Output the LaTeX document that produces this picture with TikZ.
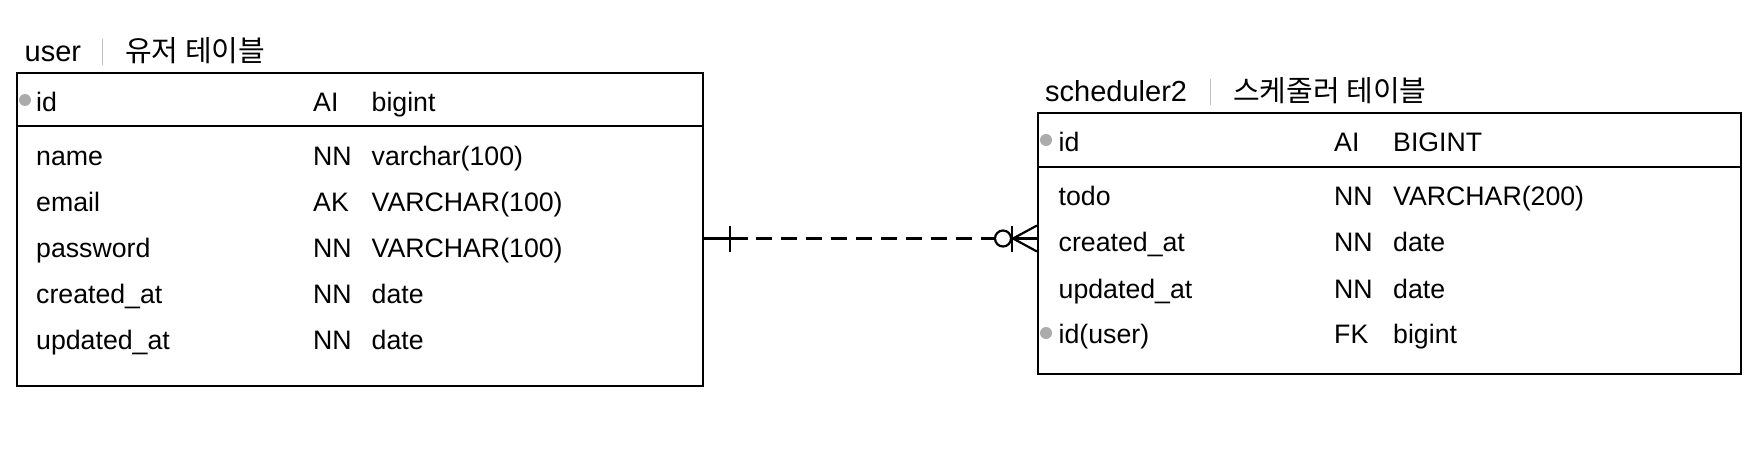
\documentclass[tikz,border=0pt]{standalone}
\usepackage{fontspec}
\setmainfont{Liberation Sans}
\newfontfamily\kofont{Noto Sans CJK KR}
\begin{document}
\begin{tikzpicture}[x=1pt,y=-1pt,
  tbl/.style={draw, line width=2pt, inner sep=0pt, anchor=north west},
  txt/.style={anchor=base west, inner sep=0pt, font=\fontsize{26.7}{30}\selectfont},
  ttl/.style={anchor=base west, inner sep=0pt, font=\fontsize{29}{32}\selectfont},
  pkdot/.style={fill=black!33, draw=none, circle, inner sep=0pt, minimum size=12pt},
  sep/.style={draw=black!25, line width=1.2pt},
  rel/.style={line width=2.2pt}]
\useasboundingbox (0,0) rectangle (1764,476);

% ---------- user table ----------
\node[ttl] (ut) at (24.5,62) {user};
\node[ttl] (utk) at (125,62) {\kofont 유저 테이블};
\draw[sep] (102.5,39) -- (102.5,65);
\node[tbl, minimum width=686pt, minimum height=312.5pt] (user) at (16,72) {};
\draw[line width=2pt] (user.west |- 0,126) -- (user.east |- 0,126);
\node[pkdot] (udot) at (25,100) {};
\node[txt] (u1) at (36,111.5) {id};
\node[txt] (u1k) at (313,111.5) {AI};
\node[txt] (u1t) at (371.5,111.5) {bigint};
\node[txt] (u2) at (36,165.5) {name};
\node[txt] (u2k) at (313,165.5) {NN};
\node[txt] (u2t) at (371.5,165.5) {varchar(100)};
\node[txt] (u3) at (36,211.5) {email};
\node[txt] (u3k) at (313,211.5) {AK};
\node[txt] (u3t) at (371.5,211.5) {VARCHAR(100)};
\node[txt] (u4) at (36,257.5) {password};
\node[txt] (u4k) at (313,257.5) {NN};
\node[txt] (u4t) at (371.5,257.5) {VARCHAR(100)};
\node[txt] (u5) at (36,303.5) {created\_at};
\node[txt] (u5k) at (313,303.5) {NN};
\node[txt] (u5t) at (371.5,303.5) {date};
\node[txt] (u6) at (36,349) {updated\_at};
\node[txt] (u6k) at (313,349) {NN};
\node[txt] (u6t) at (371.5,349) {date};

% ---------- scheduler2 table ----------
\node[ttl] (st) at (1045,101.5) {scheduler2};
\node[ttl] (stk) at (1233,101.5) {\kofont 스케줄러 테이블};
\draw[sep] (1210.5,79) -- (1210.5,105);
\node[tbl, minimum width=703pt, minimum height=260pt] (sch) at (1037,112.5) {};
\draw[line width=2pt] (sch.west |- 0,166.5) -- (sch.east |- 0,166.5);
\node[pkdot] (sdot1) at (1046,140) {};
\node[txt] (s1) at (1058.5,151) {id};
\node[txt] (s1k) at (1334,151) {AI};
\node[txt] (s1t) at (1393,151) {BIGINT};
\node[txt] (s2) at (1058.5,205) {todo};
\node[txt] (s2k) at (1334,205) {NN};
\node[txt] (s2t) at (1393,205) {VARCHAR(200)};
\node[txt] (s3) at (1058.5,251) {created\_at};
\node[txt] (s3k) at (1334,251) {NN};
\node[txt] (s3t) at (1393,251) {date};
\node[txt] (s4) at (1058.5,298) {updated\_at};
\node[txt] (s4k) at (1334,298) {NN};
\node[txt] (s4t) at (1393,298) {date};
\node[pkdot] (sdot2) at (1046,333) {};
\node[txt] (s5) at (1058.5,343) {id(user)};
\node[txt] (s5k) at (1334,343) {FK};
\node[txt] (s5t) at (1393,343) {bigint};

% ---------- relationship ----------
\coordinate (ry) at (0,238.5);
\coordinate (a) at (user.east |- ry);
\coordinate (b) at (sch.west |- ry);
\draw[rel] (a) -- ([xshift=44pt]a);
\draw[rel, dash pattern=on 16pt off 9pt] ([xshift=52pt]a) -- ([xshift=-43pt]b);
\draw[rel] ([xshift=26pt]a) ++(0,-13) -- ++(0,26);
\draw[rel] ([xshift=-34pt]b) circle[radius=8pt];
\draw[rel] ([xshift=-25pt]b) ++(0,-13) -- ++(0,26);
\draw[rel] ([xshift=-26pt]b) -- (b);
\draw[rel] ([yshift=13pt]b) -- ([xshift=-24pt]b) -- ([yshift=-13pt]b);
\end{tikzpicture}
\end{document}
